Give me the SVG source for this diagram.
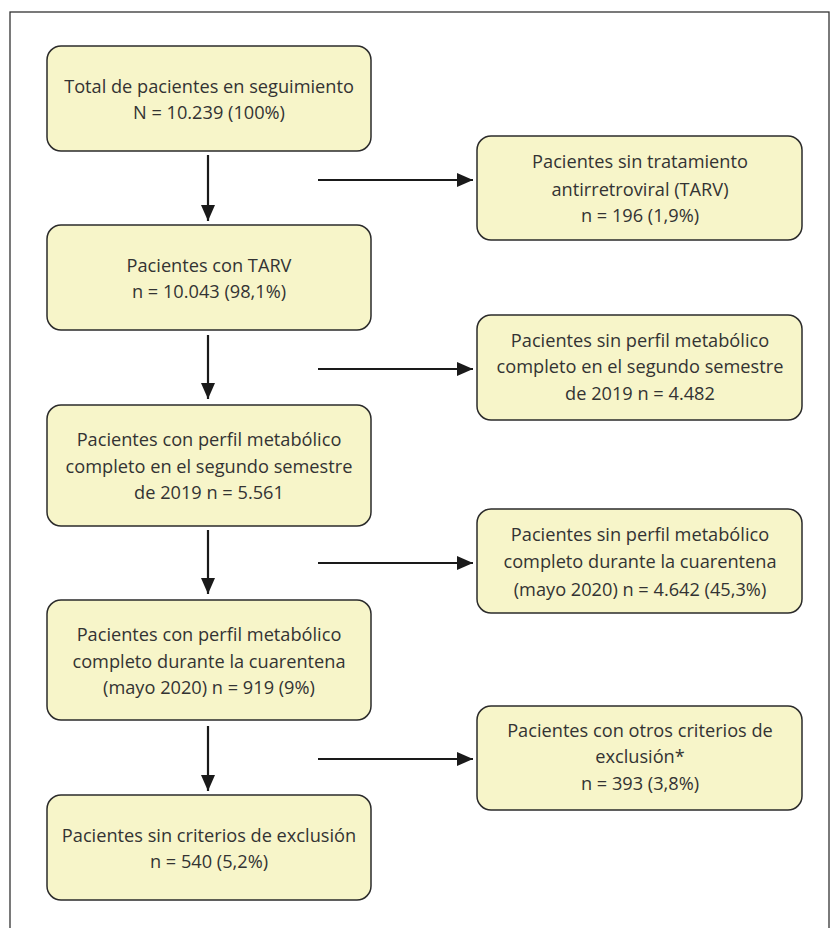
<svg xmlns="http://www.w3.org/2000/svg" width="831" height="928" viewBox="0 0 831 928">
<style>
.box{fill:#f7f5c9;stroke:#2b2b2b;stroke-width:1.5}
.t{font-family:"Open Sans","Noto Sans","Liberation Sans",sans-serif;font-size:18.2px;fill:#333333;text-anchor:middle}
.c{stroke:#1a1a1a;stroke-width:2.2;fill:none}
</style>
<defs>
<marker id="ahb" markerWidth="16" markerHeight="14" refX="16" refY="7" orient="auto" markerUnits="userSpaceOnUse" viewBox="0 0 16 14">
<path d="M0,0 L16,7 L0,14 Z" fill="#1a1a1a"/>
</marker>
</defs>
<rect x="0" y="0" width="831" height="928" fill="#ffffff"/>
<rect x="10" y="12" width="819" height="940" fill="none" stroke="#333" stroke-width="1.3"/>

<g id="n1"><rect class="box" x="47" y="46" width="324" height="105" rx="14"/>
<text class="t" x="209" y="93">Total de pacientes en seguimiento</text>
<text class="t" x="209" y="119">N = 10.239 (100%)</text></g>

<g id="n2"><rect class="box" x="47" y="225" width="324" height="105" rx="14"/>
<text class="t" x="209" y="272">Pacientes con TARV</text>
<text class="t" x="209" y="298">n = 10.043 (98,1%)</text></g>

<g id="n3"><rect class="box" x="47" y="405" width="324" height="121" rx="14"/>
<text class="t" x="209" y="446">Pacientes con perfil metabólico</text>
<text class="t" x="209" y="473">completo en el segundo semestre</text>
<text class="t" x="209" y="499">de 2019 n = 5.561</text></g>

<g id="n4"><rect class="box" x="47" y="600" width="324" height="120" rx="14"/>
<text class="t" x="209" y="641">Pacientes con perfil metabólico</text>
<text class="t" x="209" y="668">completo durante la cuarentena</text>
<text class="t" x="209" y="694">(mayo 2020) n = 919 (9%)</text></g>

<g id="n5"><rect class="box" x="47" y="795" width="324" height="105" rx="14"/>
<text class="t" x="209" y="842">Pacientes sin criterios de exclusión</text>
<text class="t" x="209" y="868">n = 540 (5,2%)</text></g>

<g id="r1"><rect class="box" x="477" y="136" width="325" height="104" rx="14"/>
<text class="t" x="640" y="168">Pacientes sin tratamiento</text>
<text class="t" x="640" y="196">antirretroviral (TARV)</text>
<text class="t" x="640" y="222">n = 196 (1,9%)</text></g>

<g id="r2"><rect class="box" x="477" y="315" width="325" height="105" rx="14"/>
<text class="t" x="640" y="347">Pacientes sin perfil metabólico</text>
<text class="t" x="640" y="373">completo en el segundo semestre</text>
<text class="t" x="640" y="400">de 2019 n = 4.482</text></g>

<g id="r3"><rect class="box" x="477" y="509" width="325" height="104" rx="14"/>
<text class="t" x="640" y="541">Pacientes sin perfil metabólico</text>
<text class="t" x="640" y="568">completo durante la cuarentena</text>
<text class="t" x="640" y="596">(mayo 2020) n = 4.642 (45,3%)</text></g>

<g id="r4"><rect class="box" x="477" y="706" width="325" height="104" rx="14"/>
<text class="t" x="640" y="737">Pacientes con otros criterios de</text>
<text class="t" x="640" y="763">exclusión*</text>
<text class="t" x="640" y="790">n = 393 (3,8%)</text></g>

<g id="connectors">
<line class="c" x1="208" y1="155" x2="208" y2="221" marker-end="url(#ahb)"/>
<line class="c" x1="208" y1="335" x2="208" y2="399" marker-end="url(#ahb)"/>
<line class="c" x1="208" y1="530" x2="208" y2="594" marker-end="url(#ahb)"/>
<line class="c" x1="208" y1="726" x2="208" y2="791" marker-end="url(#ahb)"/>
<line class="c" x1="318" y1="180" x2="473" y2="180" marker-end="url(#ahb)"/>
<line class="c" x1="318" y1="369" x2="473" y2="369" marker-end="url(#ahb)"/>
<line class="c" x1="318" y1="563" x2="473" y2="563" marker-end="url(#ahb)"/>
<line class="c" x1="318" y1="759" x2="473" y2="759" marker-end="url(#ahb)"/>
</g>
</svg>
